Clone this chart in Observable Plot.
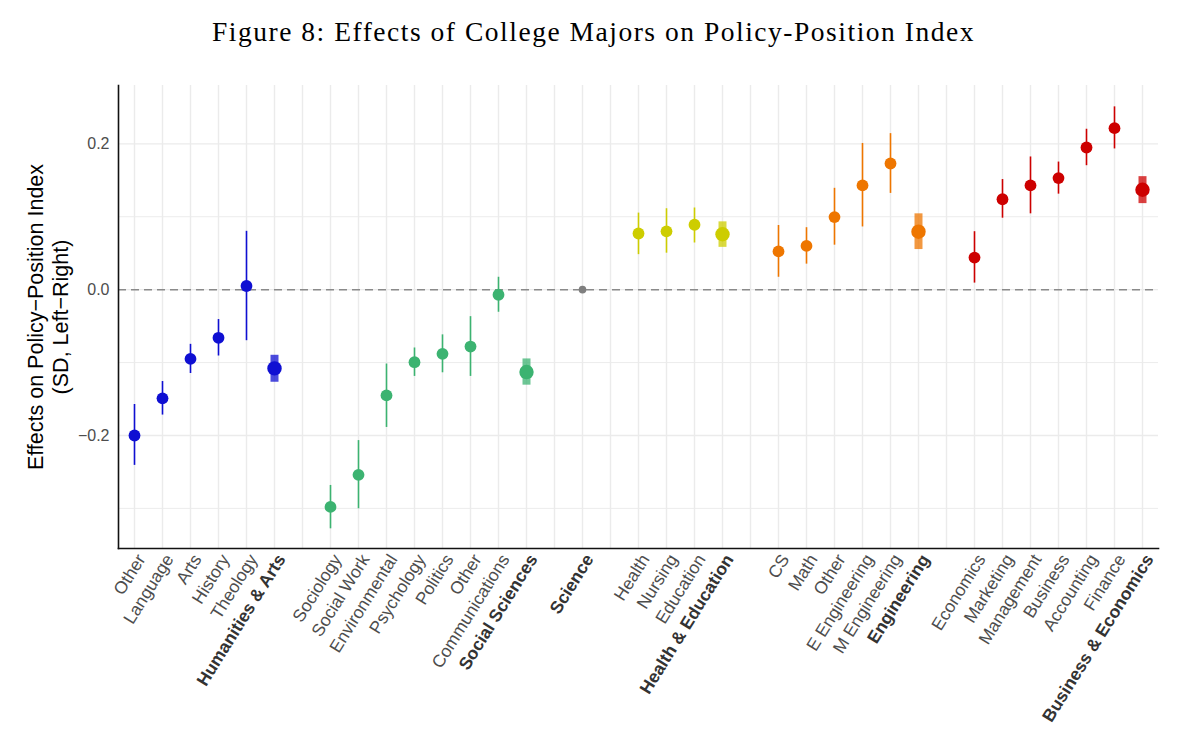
<!DOCTYPE html>
<html>
<head>
<meta charset="utf-8">
<script src="https://cdn.jsdelivr.net/npm/d3@7"></script>
<script src="https://cdn.jsdelivr.net/npm/@observablehq/plot@0.6"></script>
<style>
  html, body { margin: 0; padding: 0; background: #fff; }
  #wrap { position: relative; width: 1200px; height: 741px; overflow: hidden; }
  #title { position: absolute; top: 18px; left: 0; width: 1187px; text-align: center;
           font-family: "Liberation Serif", "DejaVu Serif", serif; font-size: 27.5px; line-height: 1; color: #000; white-space: nowrap; }
  #title span { display: inline-block; }
  #chart { position: absolute; top: 70px; left: 0; }
</style>
</head>
<body>
<div id="wrap">
  <div id="title"><span id="tspan">Figure 8: Effects of College Majors on Policy-Position Index</span></div>
  <div id="chart"></div>
</div>
<script>
// ---- data ----
const labels = ["Other","Language","Arts","History","Theology","Humanities & Arts","",
  "Sociology","Social Work","Environmental","Psychology","Politics","Other","Communications","Social Sciences","",
  "Science","",
  "Health","Nursing","Education","Health & Education","",
  "CS","Math","Other","E Engineering","M Engineering","Engineering","",
  "Economics","Marketing","Management","Business","Accounting","Finance","Business & Economics"];

const groups = ["Humanities & Arts","Humanities & Arts","Humanities & Arts","Humanities & Arts","Humanities & Arts","Humanities & Arts","",
  "Social Sciences","Social Sciences","Social Sciences","Social Sciences","Social Sciences","Social Sciences","Social Sciences","Social Sciences","",
  "Science","",
  "Health & Education","Health & Education","Health & Education","Health & Education","",
  "Engineering","Engineering","Engineering","Engineering","Engineering","Engineering","",
  "Business & Economics","Business & Economics","Business & Economics","Business & Economics","Business & Economics","Business & Economics","Business & Economics"];

const estimates = [-0.200,-0.149,-0.095,-0.066,0.005,-0.108,null,
  -0.298,-0.254,-0.145,-0.0995,-0.088,-0.078,-0.007,-0.113,null,
  0,null,
  0.077,0.080,0.089,0.076,null,
  0.0525,0.060,0.0995,0.143,0.173,0.0795,null,
  0.044,0.124,0.143,0.153,0.195,0.2215,0.137];

const lows = [-0.241,-0.172,-0.115,-0.091,-0.070,-0.127,null,
  -0.328,-0.3005,-0.189,-0.119,-0.114,-0.119,-0.031,-0.131,null,
  null,null,
  0.048,0.050,0.064,0.058,null,
  0.017,0.035,0.061,0.086,0.132,0.055,null,
  0.009,0.098,0.104,0.131,0.170,0.193,0.118];

const highs = [-0.1575,-0.126,-0.075,-0.041,0.080,-0.090,null,
  -0.2685,-0.207,-0.102,-0.080,-0.062,-0.037,0.017,-0.095,null,
  null,null,
  0.105,0.111,0.112,0.093,null,
  0.088,0.085,0.139,0.2005,0.214,0.104,null,
  0.0795,0.151,0.182,0.175,0.220,0.2507,0.155];

const groupNames = ["Humanities & Arts","Social Sciences","Science","Health & Education","Engineering","Business & Economics"];
const groupColors = ["#0f0fd2","#3cb371","#7f7f7f","#cdcd00","#ee7600","#cd0000"];

const yTicks = [-0.2, 0, 0.2];
const yMinor = [-0.3, -0.1, 0.1];
const yDomain = [-0.355, 0.28];

// ---- build ----
const slots = labels.map((_, i) => i);
const rows = slots.filter(i => estimates[i] !== null).map(i => ({
  i, label: labels[i], group: groups[i], est: estimates[i], lo: lows[i], hi: highs[i],
  agg: labels[i] === groups[i]
}));
const indiv = rows.filter(d => !d.agg);
const aggs = rows.filter(d => d.agg && d.lo !== null);
const science = rows.filter(d => d.agg && d.lo === null);
const regularTicks = slots.filter(i => labels[i] !== "" && labels[i] !== groups[i]);
const boldTicks = slots.filter(i => labels[i] !== "" && labels[i] === groups[i]);
const fmt = d => d === 0 ? "0.0" : (d < 0 ? "\u2212" : "") + Math.abs(d).toFixed(1);

const chart = Plot.plot({
  width: 1200,
  height: 671,
  marginTop: 15,
  marginBottom: 193,
  marginLeft: 118,
  marginRight: 42,
  style: { fontFamily: "'Liberation Sans', Arial, Helvetica, sans-serif", background: "white" },
  x: { type: "point", domain: slots, padding: 0.57, axis: null },
  y: { domain: yDomain, axis: null },
  color: { domain: groupNames, range: groupColors },
  marks: [
    Plot.ruleY(yMinor, { stroke: "#ececec", strokeWidth: 1 }),
    Plot.ruleY(yTicks, { stroke: "#ebebeb", strokeWidth: 1.4 }),
    Plot.ruleX(slots, { stroke: "#ebebeb", strokeWidth: 1.4 }),
    Plot.ruleY([0], { stroke: "#8a8a8a", strokeWidth: 1.5, strokeDasharray: "8,5" }),
    Plot.frame({ anchor: "left", stroke: "#111", strokeWidth: 1.6 }),
    Plot.frame({ anchor: "bottom", stroke: "#111", strokeWidth: 1.6 }),
    Plot.ruleX(indiv, { x: "i", y1: "lo", y2: "hi", stroke: "group", strokeWidth: 1.6 }),
    Plot.ruleX(aggs, { x: "i", y1: "lo", y2: "hi", stroke: "group", strokeWidth: 8, strokeOpacity: 0.75 }),
    Plot.dot(indiv, { x: "i", y: "est", fill: "group", r: 5.9 }),
    Plot.dot(aggs, { x: "i", y: "est", fill: "group", r: 7.2 }),
    Plot.dot(science, { x: "i", y: "est", fill: "group", r: 3.8 }),
    // y tick labels
    Plot.text(yTicks, { y: d => d, text: fmt, frameAnchor: "left", textAnchor: "end", dx: -9,
      fontSize: 16, fill: "#4d4d4d" }),
    // y title
    Plot.text(["Effects on Policy\u2212Position Index\n(SD, Left\u2212Right)"], { text: d => d, frameAnchor: "left",
      rotate: -90, dx: -71, fontSize: 21.5, fill: "#000", textAnchor: "middle", lineAnchor: "middle", lineHeight: 1.17 }),
    // x tick labels
    Plot.text(regularTicks, { x: d => d, text: d => labels[d], frameAnchor: "bottom", rotate: -58,
      textAnchor: "end", lineAnchor: "top", dx: 1, dy: 4, fontSize: 17.5, fill: "#4d4d4d" }),
    Plot.text(boldTicks, { x: d => d, text: d => labels[d], frameAnchor: "bottom", rotate: -58,
      textAnchor: "end", lineAnchor: "top", dx: 1, dy: 4, fontSize: 17.5, fontWeight: "bold", fill: "#333" })
  ]
});
document.getElementById("chart").appendChild(chart);

// fit title width
const ts = document.getElementById("tspan");
const target = 763;
const w = ts.getBoundingClientRect().width;
const n = ts.textContent.length;
ts.style.letterSpacing = ((target - w) / n) + "px";
</script>
</body>
</html>
